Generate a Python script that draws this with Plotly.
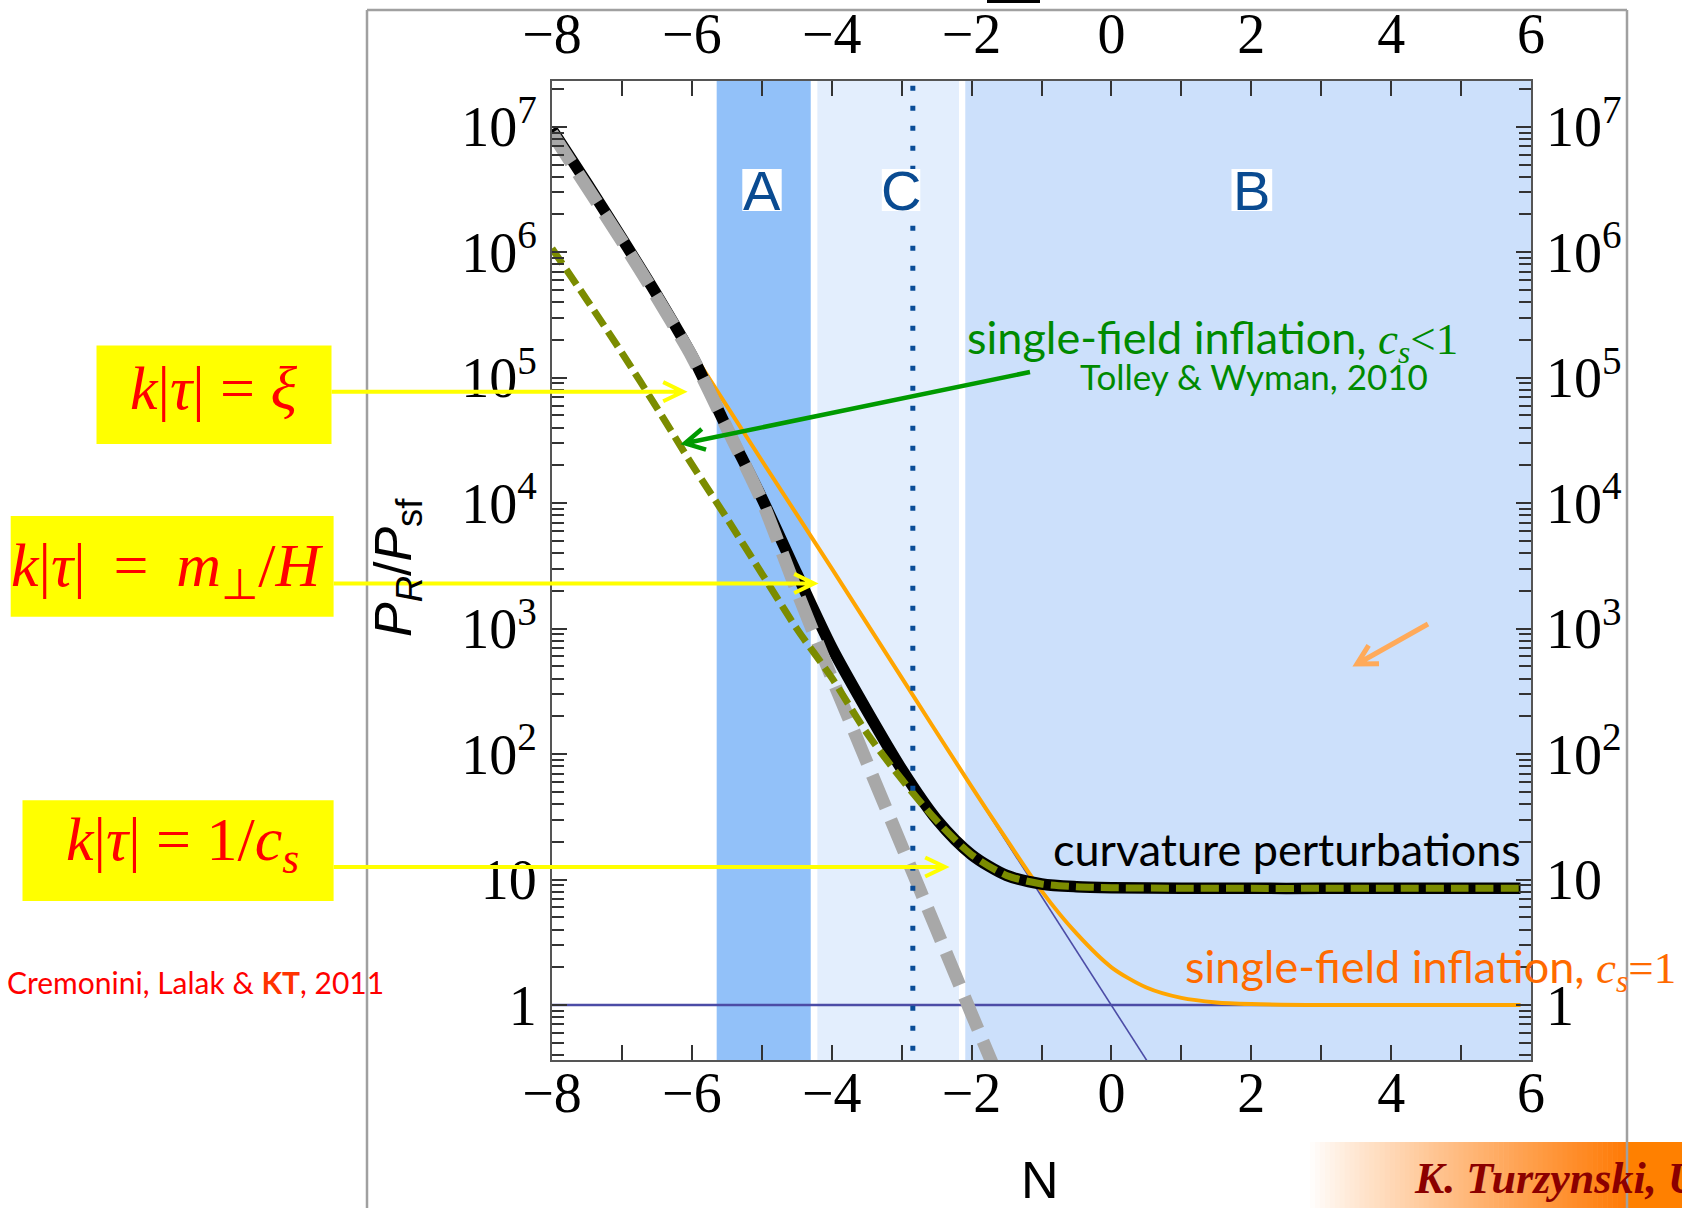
import plotly.graph_objects as go

# ---------------- data ----------------
N_curv = [-8, -7.5, -7, -6.5, -6, -5.5, -5, -4.5, -4, -3.5, -3, -2.5, -2, -1.5, -1, -0.5, 0, 1, 2, 3, 4, 5, 5.85]
curv = [9.55e6, 3.55e6, 1.29e6, 4.57e5, 1.51e5, 3.98e4, 1.10e4, 2.75e3, 708, 224, 75.9, 30.2, 15.8, 10.8,
        9.23, 8.77, 8.61, 8.53, 8.51, 8.51, 8.51, 8.51, 8.51]

N_gray = [-8, -7.5, -7, -6.5, -6, -5.5, -5, -4.5, -4, -3.5, -3, -2.5, -2, -1.6]
gray = [8.9e6, 3.31e6, 1.23e6, 4.37e5, 1.48e5, 3.98e4, 1.05e4, 2.0e3, 407, 87, 18.6, 3.98, 0.85, 0.25]

N_olive = [-8, -7.5, -7, -6.5, -6, -5.5, -5, -4.5, -4, -3.5, -3, -2.5, -2, -1.5, -1, -0.5, 0, 1, 2, 3, 4, 5, 5.85]
olive = [1.07e6, 4.17e5, 1.58e5, 5.75e4, 2.04e4, 7.59e3, 2.75e3, 1.0e3, 407, 148, 63.1, 29.5, 15.8, 10.8,
         9.23, 8.77, 8.61, 8.53, 8.51, 8.51, 8.51, 8.51, 8.51]

N_orange = [-8, -7, -6, -5, -4, -3, -2, -1.5, -1, -0.5, 0, 0.5, 1, 1.5, 2, 3, 4, 5.85]
orange = [8.9e6, 1.2e6, 1.62e5, 2.19e4, 3.02e3, 407, 55.0, 20.9, 8.13, 3.72, 2.0, 1.38, 1.14, 1.05, 1.02, 1.0, 1.0, 1.0]

N_unit = [-8, 5.85]
unit = [1, 1]

N_diag = [-2.5, 0.7]
diag = [148, 0.245]

N_dotted = -2.84
regions = {"A": (-5.645, -4.30), "C": (-4.205, -2.18), "B": (-2.09, 6.0)}
region_colors = {"A": "#92C1F9", "C": "#E3EEFD", "B": "#CCE0FB"}
letter_N = {"A": -5.0, "C": -3.01, "B": 2.01}

x_ticks = [-8, -6, -4, -2, 0, 2, 4, 6]
x_ticktext = ["\u22128", "\u22126", "\u22124", "\u22122", "0", "2", "4", "6"]
y_ticks = [1, 10, 1e2, 1e3, 1e4, 1e5, 1e6, 1e7]
y_ticktext = ["1", "10", "10<sup>2</sup>", "10<sup>3</sup>", "10<sup>4</sup>", "10<sup>5</sup>",
              "10<sup>6</sup>", "10<sup>7</sup>"]

# ---------------- geometry helpers ----------------
W, H = 1682, 1208
L, R, T, Bm = 552, 151, 81, 148
PW = W - L - R
PH = H - T - Bm
PB = H - Bm


def px(x):
    return (x - L) / PW


def py(y):
    return (PB - y) / PH


def arrow(x0, y0, x1, y1, color, width, head=22, spread=0.45):
    import math
    dx, dy = x1 - x0, y1 - y0
    d = math.hypot(dx, dy)
    ux, uy = dx / d, dy / d
    pts = []
    for s in (spread, -spread):
        c, sn = math.cos(s), math.sin(s)
        rx, ry = ux * c - uy * sn, ux * sn + uy * c
        pts.append((x1 - head * rx, y1 - head * ry))
    path = (f"M{px(x0)},{py(y0)} L{px(x1)},{py(y1)} "
            f"M{px(pts[0][0])},{py(pts[0][1])} L{px(x1)},{py(y1)} L{px(pts[1][0])},{py(pts[1][1])}")
    return dict(type="path", xref="paper", yref="paper", path=path,
                line=dict(color=color, width=width), layer="above")


def rect(x0, y0, x1, y1, color, layer="above"):
    return dict(type="rect", xref="paper", yref="paper", x0=px(x0), x1=px(x1), y0=py(y1), y1=py(y0),
                fillcolor=color, line=dict(width=0), layer=layer)


fig = go.Figure()

fig.add_trace(go.Scatter(x=N_unit, y=unit, mode="lines", line=dict(color="#4C4CA6", width=2.5),
                         hoverinfo="skip", showlegend=False))
fig.add_trace(go.Scatter(x=N_diag, y=diag, mode="lines", line=dict(color="#4C4CA6", width=1.6),
                         hoverinfo="skip", showlegend=False))
fig.add_trace(go.Scatter(x=N_orange, y=orange, mode="lines",
                         line=dict(color="#FFA500", width=4, shape="spline", smoothing=0.8),
                         hoverinfo="skip", showlegend=False))
fig.add_trace(go.Scatter(x=N_curv, y=curv, mode="lines",
                         line=dict(color="black", width=11.5, shape="spline", smoothing=0.8),
                         hoverinfo="skip", showlegend=False))
fig.add_trace(go.Scatter(x=N_gray, y=gray, mode="lines",
                         line=dict(color="#A8A8A8", width=13, dash="35px,13px", shape="spline", smoothing=0.6),
                         hoverinfo="skip", showlegend=False))
fig.add_trace(go.Scatter(x=N_olive, y=olive, mode="lines",
                         line=dict(color="#7B8C00", width=7, dash="18px,7px", shape="spline", smoothing=0.8),
                         hoverinfo="skip", showlegend=False))
fig.add_trace(go.Scatter(x=[N_dotted, N_dotted], y=[0.3, 3e7], mode="lines",
                         line=dict(color="#0A4C97", width=5, dash="5px,15px"),
                         hoverinfo="skip", showlegend=False))
# carrier for the mirrored (top / right) tick labels
fig.add_trace(go.Scatter(x=N_curv, y=curv, mode="lines", line=dict(width=0), opacity=0,
                         xaxis="x2", yaxis="y2", hoverinfo="skip", showlegend=False))

shapes = []
for k, (a, b) in regions.items():
    shapes.append(dict(type="rect", xref="x", yref="paper", x0=a, x1=b, y0=0, y1=1,
                       fillcolor=region_colors[k], line=dict(width=0), layer="below"))

# outer slide frame
shapes.append(dict(type="line", xref="paper", yref="paper", x0=px(367), x1=px(367), y0=py(10), y1=py(1210),
                   line=dict(color="#A0A0A0", width=2.5), layer="above"))
shapes.append(dict(type="line", xref="paper", yref="paper", x0=px(1627), x1=px(1627), y0=py(10), y1=py(1210),
                   line=dict(color="#A0A0A0", width=2.5), layer="above"))
shapes.append(dict(type="line", xref="paper", yref="paper", x0=px(367), x1=px(1627), y0=py(10), y1=py(10),
                   line=dict(color="#A0A0A0", width=2.5), layer="above"))
shapes.append(rect(987, 0, 1040, 3, "black"))

# watermark gradient
n = 64
x_start, x_end = 1310, 1627
for i in range(n):
    t = (i + 0.5) / n
    tt = t ** 0.9
    r = 255
    g = int(255 + (122 - 255) * tt)
    b_ = int(255 + (5 - 255) * tt)
    xa = x_start + (x_end - x_start) * i / n
    xb = x_start + (x_end - x_start) * (i + 1) / n + 0.6
    shapes.append(rect(xa, 1142, xb, 1210, f"rgb({r},{g},{b_})", layer="below"))
shapes.append(rect(1627, 1142, 1684, 1210, "#FF8000", layer="below"))

# yellow boxes
shapes.append(rect(96.5, 345.4, 331.5, 444.1, "#FFFF00"))
shapes.append(rect(10.7, 516, 333.6, 616.8, "#FFFF00"))
shapes.append(rect(22.5, 800.2, 333.6, 901, "#FFFF00"))

# white label boxes
for k, (x0, x1) in {"A": (742.3, 781.7), "C": (881.8, 920.3), "B": (1231.5, 1272.2)}.items():
    shapes.append(rect(x0, 169, x1, 211, "white"))

# arrows
shapes.append(arrow(331.5, 391.7, 683, 391.7, "#FFFF00", 4))
shapes.append(arrow(333.6, 583.4, 814, 583.4, "#FFFF00", 4))
shapes.append(arrow(333.6, 867, 945, 867, "#FFFF00", 4))
shapes.append(arrow(1030, 372, 685, 443.3, "#009A00", 4.5, head=22, spread=0.5))
shapes.append(arrow(1428, 624, 1357, 664, "#FFAA5A", 5, head=22, spread=0.5))

ann = []


def text(x, y, s, size, color, family, xanchor="left", angle=0):
    ann.append(dict(xref="paper", yref="paper", x=px(x), y=py(y), text=s, showarrow=False,
                    xanchor=xanchor, yanchor="middle", textangle=angle,
                    font=dict(size=size, color=color, family=family)))


serif = "Liberation Serif"
for k in ("A", "C", "B"):
    ann.append(dict(xref="x", yref="paper", x=letter_N[k], y=py(190), text=k, showarrow=False,
                    xanchor="center", yanchor="middle",
                    font=dict(size=56, color="#0A4B91", family="Liberation Sans")))

nb = "\u00a0"
th = "\u2009"
text(300, 388, f"<i>k</i>|<i>τ</i>|{nb}={nb}<i>ξ</i>", 62, "#FF0000", serif, xanchor="right")
text(325, 569, f"<i>k</i>|<i>τ</i>|{nb}{th}={nb}{th}<i>m</i><sub>⊥</sub>/<i>H</i>", 62, "#FF0000", serif,
     xanchor="right")
text(301, 843, f"<i>k</i>|<i>τ</i>|{nb}={nb}1/<i>c</i><sub><i>s</i></sub>", 62, "#FF0000", serif,
     xanchor="right")

cs_green = (f'<span style="font-family:Liberation Serif"><i>c</i><sub><i>s</i></sub>&lt;1</span>')
text(965, 340, "single-field inflation, " + cs_green, 45, "#008A00", "Lato")
text(1078, 376, "Tolley &amp; Wyman, 2010", 35, "#008A00", "Lato")
text(1051, 849, "curvature perturbations", 45, "black", "Lato")
cs_or = (f'<span style="font-family:Liberation Serif"><i>c</i><sub><i>s</i></sub>=1</span>')
text(1183, 969, "single-field inflation, " + cs_or, 45, "#FF6A00", "Lato")
text(5, 982, 'Cremonini, Lalak &amp; <b><span style="color:#FF3300">KT</span></b>, 2011', 30,
     "#FF0000", "Lato")
text(1412, 1178, "<b><i>K. Turzynski, U</i></b>", 44, "#8B0000", serif)

text(397, 568, "<i>P</i><sub><i>R</i></sub>/<i>P</i><sub>sf</sub>", 52, "black", "Liberation Sans",
     xanchor="center", angle=-90)
text(1040, 1180, "N", 52, "black", "Liberation Sans", xanchor="center")

tickfont = dict(family=serif, size=56, color="black")
fig.update_layout(
    width=W, height=H, margin=dict(l=L, r=R, t=T, b=Bm, autoexpand=False),
    paper_bgcolor="white", plot_bgcolor="white",
    showlegend=False,
    xaxis=dict(range=[-8, 6], tickmode="array", tickvals=x_ticks, ticktext=x_ticktext,
               ticks="inside", ticklen=15, tickwidth=1.5, tickcolor="#333",
               minor=dict(tickmode="linear", tick0=-8, dtick=1, ticks="inside", ticklen=15,
                          tickwidth=1.5, tickcolor="#333"),
               showline=True, linecolor="#555", linewidth=2, mirror="allticks", showgrid=False,
               zeroline=False, tickfont=tickfont, ticklabelstandoff=-17, automargin=False),
    yaxis=dict(type="log", range=[-0.438, 7.365], tickmode="array", tickvals=y_ticks,
               ticktext=y_ticktext, ticks="inside", ticklen=15, tickwidth=1.5, tickcolor="#333",
               minor=dict(dtick="D1", ticks="inside", ticklen=12, tickwidth=1.5, tickcolor="#333"),
               showline=True, linecolor="#555", linewidth=2, mirror="allticks", showgrid=False,
               zeroline=False, tickfont=tickfont, ticklabelstandoff=2, automargin=False),
    xaxis2=dict(overlaying="x", side="top", range=[-8, 6], tickmode="array", tickvals=x_ticks,
                ticktext=x_ticktext, ticks="", showline=False, showgrid=False, zeroline=False,
                tickfont=tickfont, ticklabelstandoff=16, automargin=False),
    yaxis2=dict(overlaying="y", side="right", type="log", range=[-0.438, 7.365], tickmode="array",
                tickvals=y_ticks, ticktext=y_ticktext, ticks="", showline=False, showgrid=False,
                zeroline=False, tickfont=tickfont, ticklabelstandoff=14, automargin=False),
    shapes=shapes, annotations=ann,
)

fig.write_html("out.html")
